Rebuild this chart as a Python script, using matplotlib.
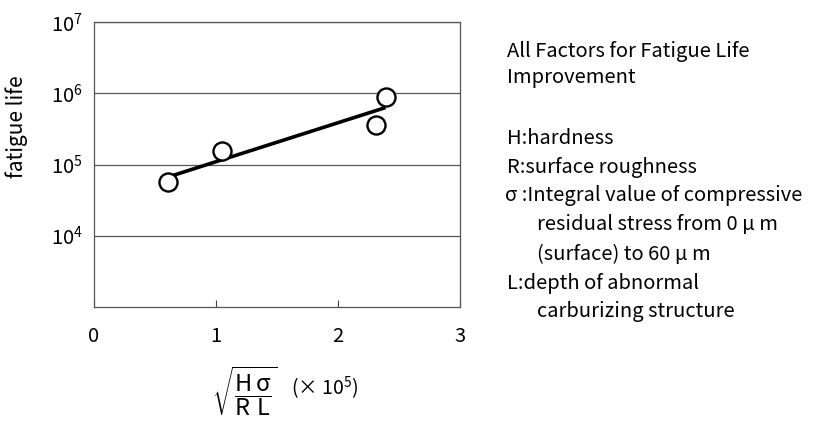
import matplotlib
matplotlib.use("Agg")
from matplotlib import pyplot as plt
from matplotlib.ticker import NullLocator

plt.rcParams['font.family'] = ['Noto Sans CJK JP', 'DejaVu Sans']
plt.rcParams['mathtext.fontset'] = 'custom'
plt.rcParams['mathtext.rm'] = 'Noto Sans CJK JP'
plt.rcParams['mathtext.it'] = 'Noto Sans CJK JP'

# measured points
param_x = [0.61, 1.05, 2.31, 2.39]
fatigue_life = [5.7e4, 1.55e5, 3.6e5, 8.9e5]

# trend line end points
line_x = [0.61, 2.39]
line_y = [6.7e4, 6.3e5]

y_ticks = [1e4, 1e5, 1e6, 1e7]
x_ticks = [0, 1, 2, 3]

# explanation text on the right (x offset, y in pixels from top, text)
notes = [
    (0, 51, "All Factors for Fatigue Life"),
    (0, 78, "Improvement"),
    (0, 138, "H:hardness"),
    (0, 167, "R:surface roughness"),
    (-2, 196, "σ :Integral value of compressive"),
    (30, 225, "residual stress from 0 μ m"),
    (30, 254, "(surface) to 60 μ m"),
    (0, 283, "L:depth of abnormal"),
    (30, 312, "carburizing structure"),
]

W, H = 821, 421
fig = plt.figure(figsize=(8.21, 4.21), dpi=100)
ax = fig.add_axes([94 / W, 1 - 307 / H, 366 / W, 285 / H])

ax.plot(line_x, line_y, color="black", linewidth=2.6, solid_capstyle="butt")
ax.plot(param_x, fatigue_life, linestyle="none", marker="o", markersize=13,
        markerfacecolor="white", markeredgecolor="black", markeredgewidth=1.7)

ax.set_yscale("log")
ax.set_ylim(1e3, 1e7)
ax.set_xlim(0, 3)
ax.set_yticks(y_ticks)
ax.yaxis.set_minor_locator(NullLocator())
ax.set_xticks(x_ticks)
ax.tick_params(axis="y", length=0, labelsize=14.5, pad=8)
ax.tick_params(axis="x", direction="in", length=5, width=0.8, labelsize=14.5,
               pad=14, color="#444444")
ax.grid(axis="y", color="#555555", linewidth=0.9)
for s in ax.spines.values():
    s.set_color("#555555")
    s.set_linewidth(0.9)

fig.text(17 / W, 1 - 127 / H, "fatigue life", fontsize=15, rotation=90,
         ha="center", va="center")
fig.text(245 / W, 1 - 392 / H, r"$\sqrt{\dfrac{\mathrm{H}\,\sigma}{\mathrm{R\ L}}}$",
         fontsize=17, ha="center", va="center")
fig.text(325 / W, 1 - 388 / H, "(× 10$^{5}$)", fontsize=14, ha="center", va="center")

for dx, y, s in notes:
    fig.text((507 + dx) / W, 1 - y / H, s, fontsize=14.5, ha="left", va="center")

plt.savefig("out.png")
